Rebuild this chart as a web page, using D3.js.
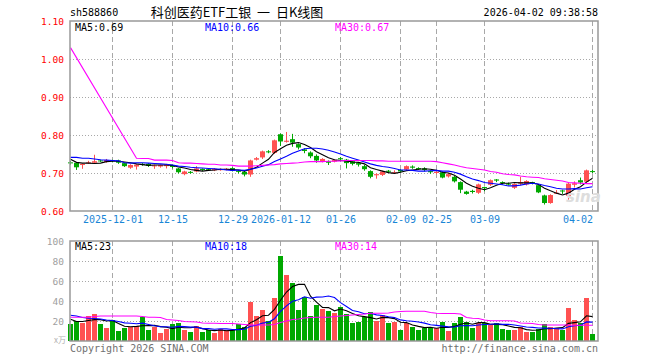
<!DOCTYPE html>
<html>
<head>
<meta charset="utf-8">
<script src="https://cdn.jsdelivr.net/npm/d3@7"></script>
<style>
  body { margin: 0; background: #fff; }
  svg text { font-family: 'DejaVu Sans Mono', monospace; }
</style>
</head>
<body>
<div id="kline"></div>
<script>
// trading days shown on the chart
const dates = [
  '2025-11-20', '2025-11-21', '2025-11-24', '2025-11-25', '2025-11-26', '2025-11-27', '2025-11-28',
  '2025-12-01', '2025-12-02', '2025-12-03', '2025-12-04', '2025-12-05', '2025-12-08', '2025-12-09',
  '2025-12-10', '2025-12-11', '2025-12-12', '2025-12-15', '2025-12-16', '2025-12-17', '2025-12-18',
  '2025-12-19', '2025-12-22', '2025-12-23', '2025-12-24', '2025-12-25', '2025-12-26', '2025-12-29',
  '2025-12-30', '2025-12-31', '2026-01-05', '2026-01-06', '2026-01-07', '2026-01-08', '2026-01-09',
  '2026-01-12', '2026-01-13', '2026-01-14', '2026-01-15', '2026-01-16', '2026-01-19', '2026-01-20',
  '2026-01-21', '2026-01-22', '2026-01-23', '2026-01-26', '2026-01-27', '2026-01-28', '2026-01-29',
  '2026-01-30', '2026-02-02', '2026-02-03', '2026-02-04', '2026-02-05', '2026-02-06', '2026-02-09',
  '2026-02-10', '2026-02-11', '2026-02-12', '2026-02-13', '2026-02-24', '2026-02-25', '2026-02-26',
  '2026-02-27', '2026-03-02', '2026-03-03', '2026-03-04', '2026-03-05', '2026-03-06', '2026-03-09',
  '2026-03-10', '2026-03-11', '2026-03-12', '2026-03-13', '2026-03-16', '2026-03-17', '2026-03-18',
  '2026-03-19', '2026-03-20', '2026-03-23', '2026-03-24', '2026-03-25', '2026-03-26', '2026-03-27',
  '2026-03-30', '2026-03-31', '2026-04-01', '2026-04-02'
];

const openPrices = [
  .728, .727, .721, .726, .727, .733, .729, .734, .733, .726, .714, .717, .724, .724, .718, .717,
  .718, .721, .712, .697, .703, .704, .711, .710, .707, .709, .709, .713, .706, .703, .696, .735,
  .741, .757, .753, .802, .782, .789, .776, .762, .754, .745, .731, .731, .730, .739, .735, .731,
  .726, .718, .705, .694, .695, .706, .700, .708, .709, .717, .713, .712, .705, .700, .702, .691,
  .690, .676, .651, .653, .648, .663, .669, .683, .676, .672, .661, .672, .670, .676, .668, .641,
  .621, .646, .654, .640, .669, .681, .677, .705
];
const highPrices = [
  .732, .729, .725, .732, .748, .735, .737, .735, .735, .727, .723, .723, .726, .726, .722, .722,
  .724, .722, .713, .706, .705, .718, .712, .712, .713, .712, .713, .715, .708, .705, .735, .742,
  .759, .760, .788, .804, .808, .803, .778, .765, .757, .749, .739, .733, .736, .742, .737, .734,
  .727, .722, .707, .699, .706, .708, .707, .710, .720, .720, .715, .715, .707, .705, .704, .700,
  .692, .678, .653, .656, .672, .664, .683, .684, .678, .675, .673, .690, .681, .677, .670, .643,
  .644, .655, .656, .675, .678, .688, .709, .708
];
const lowPrices = [
  .722, .708, .711, .724, .724, .729, .727, .728, .724, .716, .711, .709, .719, .716, .711, .714,
  .712, .712, .699, .694, .698, .702, .705, .707, .705, .706, .707, .704, .699, .691, .690, .733,
  .737, .752, .750, .771, .780, .769, .762, .752, .739, .727, .728, .721, .728, .731, .712, .720,
  .717, .706, .686, .685, .692, .700, .699, .701, .706, .711, .708, .704, .698, .697, .686, .688,
  .675, .647, .643, .646, .645, .652, .666, .676, .669, .667, .658, .668, .667, .670, .647, .617,
  .619, .645, .645, .630, .662, .670, .675, .700
];
const closePrices = [
  .727, .715, .724, .728, .731, .731, .734, .733, .727, .718, .721, .722, .722, .719, .720, .721,
  .723, .716, .702, .704, .701, .712, .708, .709, .711, .710, .711, .706, .703, .696, .733, .739,
  .757, .755, .786, .783, .785, .780, .767, .758, .744, .733, .737, .727, .734, .736, .726, .724,
  .722, .710, .690, .697, .704, .704, .702, .704, .718, .714, .710, .708, .702, .703, .688, .697,
  .678, .656, .645, .650, .670, .660, .681, .680, .674, .670, .671, .676, .679, .673, .649, .621,
  .642, .648, .652, .672, .673, .675, .707, .703
];

// moving averages as drawn on the chart
const ma5 = [
  .736, .728, .726, .726, .725, .726, .730, .731, .731, .729, .727, .724, .722, .720, .721, .721,
  .721, .720, .716, .713, .709, .707, .705, .707, .708, .710, .710, .709, .708, .705, .710, .715,
  .726, .736, .754, .764, .773, .778, .780, .775, .767, .756, .748, .740, .735, .733, .732, .729,
  .728, .724, .714, .709, .705, .701, .699, .702, .706, .708, .710, .711, .710, .707, .702, .700,
  .694, .684, .673, .665, .660, .656, .661, .668, .673, .673, .675, .674, .674, .674, .670, .660,
  .653, .647, .642, .647, .657, .664, .676, .686
];
const ma10 = [
  .741, .741, .739, .739, .737, .735, .734, .733, .732, .727, .726, .727, .727, .726, .725, .724,
  .723, .721, .718, .717, .715, .714, .713, .712, .711, .710, .708, .707, .708, .707, .710, .713,
  .718, .722, .730, .737, .744, .752, .758, .764, .765, .765, .763, .760, .755, .750, .744, .739,
  .734, .729, .724, .720, .717, .715, .712, .708, .708, .707, .705, .705, .706, .707, .705, .705,
  .702, .697, .690, .684, .680, .675, .673, .671, .669, .666, .666, .668, .671, .673, .671, .667,
  .664, .660, .658, .658, .659, .658, .661, .664
];
const ma30 = [
  1.03, null, null, null, null, null, null, null, null, null, null, .739, .738, .738, .734, .734,
  .734, .733, .727, .726, .726, .725, .724, .723, .723, .721, .721, .720, .718, .718, .718, .719,
  .720, .721, .722, .724, .725, .726, .727, .729, .730, .730, .730, .731, .731, .732, .733, .733,
  .733, .733, .733, .732, .732, .731, .731, .731, .731, .731, .731, .731, .731, .730, .727, .724,
  .721, .717, .714, .712, .710, .708, .704, .702, .698, .696, .695, .692, .690, .689, .688, .685,
  .683, .681, .679, .675, .674, .673, .672, .672
];

// volume, in 10k lots
const volumes = [
  17, 20, 18, 25, 27, 17, 13, 21, 10, 13, 14, 15, 24, 11, 14, 8,
  12, 17, 18, 11, 9, 15, 9, 11, 8, 12, 11, 11, 17, 14, 39, 25,
  31, 20, 43, 85, 66, 58, 31, 44, 25, 36, 32, 30, 28, 34, 27, 18,
  19, 24, 29, 20, 26, 18, 19, 11, 18, 14, 11, 13, 13, 13, 19, 10,
  18, 24, 19, 13, 18, 18, 16, 18, 12, 11, 11, 14, 9, 9, 12, 17,
  14, 13, 11, 33, 21, 18, 43, 7
];
const volMa5 = [
  21.7, 19.5, 19.5, 20.5, 21.4, 21.4, 20, 20.6, 17.6, 14.8, 14.2, 14.6, 15.2, 15.4, 15.6, 14.4,
  13.8, 12.4, 13.8, 13.2, 13.4, 14, 12.4, 11, 10.4, 11, 10.2, 10.6, 11.8, 13, 18.4, 21.2,
  25.2, 25.8, 31.6, 40.8, 49, 54.4, 56.6, 56.8, 44.8, 38.8, 33.6, 33.4, 30.2, 32, 30.2, 27.4,
  25.2, 24.4, 23.4, 22, 23.6, 23.4, 22.4, 18.8, 18.4, 16, 14.6, 13.4, 13.8, 12.8, 13.8, 13.6,
  14.6, 16.8, 18, 16.8, 18.4, 18.4, 16.8, 16.6, 16.4, 15, 13.6, 13.2, 11.4, 10.8, 11, 12.2,
  12.2, 13, 13.4, 17.6, 18.4, 19.2, 25.2, 24.4
];
const volMa10 = [
  25.7, 25, 23.5, 22.7, 22.5, 22, 21, 20.5, 19.5, 18.1, 17.8, 17.3, 17.9, 16.5, 15.2, 14.3,
  14.2, 13.8, 14.6, 14.4, 13.9, 13.9, 12.4, 12.4, 11.8, 12.2, 12.1, 11.5, 11.4, 11.7, 14.7, 15.7,
  17.9, 18.8, 22.3, 29.6, 35.1, 39.8, 41.2, 44.2, 42.8, 43.9, 44, 45, 43.5, 38.4, 34.5, 30.5,
  29.3, 27.3, 27.7, 26.1, 25.5, 24.3, 23.4, 21.1, 20.2, 19.8, 19, 17.9, 16.3, 15.6, 14.9, 14.1,
  14, 15.3, 15.4, 15.3, 16, 16.5, 16.8, 17.3, 16.6, 16.7, 16, 15, 14, 13.6, 13, 12.9,
  12.7, 12.2, 12.1, 14.3, 15.3, 15.7, 19.1, 18.9
];
const volMa30 = [
  23.7, 23.7, 23.7, 23.7, 24.5, 25, 25, 25, 25, 25, 25, 25, 24.5, 23.7, 23.7, 23.5,
  21.5, 21, 20.5, 19.5, 19.3, 19, 18, 17.7, 17.7, 17.5, 17.5, 17.5, 17, 16.5, 16, 16,
  16, 16, 16.5, 18.5, 20, 21.5, 22, 23, 23.5, 23.7, 23.7, 23.7, 24.5, 25, 25.5, 26,
  26.5, 27, 27.7, 27.7, 27.7, 28, 29, 29.5, 29.7, 29.7, 29.7, 29.7, 28.5, 27.7, 27.5, 27.5,
  27.5, 27, 23.5, 22.7, 22.5, 21, 20.3, 20.3, 20.3, 20.3, 20, 18, 17.7, 17.5, 16.5, 16,
  16, 16, 16, 16, 15.8, 15.8, 15.7, 15.7
];

const tickDates = ['2025-12-01', '2025-12-15', '2025-12-29', '2026-01-12', '2026-01-26',
  '2026-02-09', '2026-02-25', '2026-03-09', '2026-04-02'];
const tickLabels = ['2025-12-01', '12-15', '12-29', '2026-01-12', '01-26',
  '02-09', '02-25', '03-09', '04-02'];
const priceTicks = [0.6, 0.7, 0.8, 0.9, 1.0, 1.1];
const volumeTicks = [20, 40, 60, 80, 100];

const maLabels = ['MA5:0.69', 'MA10:0.66', 'MA30:0.67'];
const volMaLabels = ['MA5:23', 'MA10:18', 'MA30:14'];

const width = 660;
const height = 360;
const left = 70;
const right = 598;
const priceTop = 21;
const priceBottom = 211;
const volTop = 241;
const volBottom = 341;

const UP = '#ff5151';
const DOWN = '#00a800';
const GRID = '#a8a8a8';
const maColors = ['#000000', '#0000ff', '#ff00ff'];

const svg = d3.select('#kline')
  .append('svg')
  .attr('width', width)
  .attr('height', height);

const x = d3.scaleLinear()
  .domain([0, dates.length - 1])
  .range([70.5, 70.5 + 6 * (dates.length - 1)]);
const y = d3.scaleLinear().domain([0.6, 1.1]).range([priceBottom, priceTop]);
const yVol = d3.scaleLinear().domain([0, 100]).range([volBottom, volTop]);

const tickIndex = tickDates.map(d => dates.indexOf(d));

// grid: vertical dashed lines on tick dates, dotted horizontals
function drawGrid(top, bottom, scale, values) {
  const g = svg.append('g').attr('class', 'grid');
  g.selectAll('line.v')
    .data(tickIndex)
    .enter()
    .append('line')
    .attr('x1', d => x(d))
    .attr('x2', d => x(d))
    .attr('y1', top)
    .attr('y2', bottom)
    .attr('stroke', GRID)
    .attr('stroke-dasharray', '5,3');
  g.selectAll('line.h')
    .data(values)
    .enter()
    .append('line')
    .attr('x1', left)
    .attr('x2', right)
    .attr('y1', d => Math.round(scale(d)) + 0.5)
    .attr('y2', d => Math.round(scale(d)) + 0.5)
    .attr('stroke', GRID)
    .attr('stroke-dasharray', '1,2');
}
drawGrid(priceTop, priceBottom, y, [0.7, 0.8, 0.9, 1.0]);
drawGrid(volTop, volBottom, yVol, [20, 40, 60, 80]);

const isUp = i => closePrices[i] >= openPrices[i];

// candles
const candles = svg.append('g').attr('class', 'candles');
candles.selectAll('line')
  .data(dates.map((d, i) => i))
  .enter()
  .append('line')
  .attr('x1', i => x(i))
  .attr('x2', i => x(i))
  .attr('y1', i => y(highPrices[i]))
  .attr('y2', i => y(lowPrices[i]))
  .attr('stroke', i => (isUp(i) ? UP : DOWN));
candles.selectAll('rect')
  .data(dates.map((d, i) => i))
  .enter()
  .append('rect')
  .attr('x', i => x(i) - 2.5)
  .attr('width', 5)
  .attr('y', i => y(Math.max(openPrices[i], closePrices[i])))
  .attr('height', i => Math.max(1, Math.abs(y(openPrices[i]) - y(closePrices[i]))))
  .attr('fill', i => (isUp(i) ? UP : DOWN));

// volume bars
svg.append('g')
  .selectAll('rect')
  .data(volumes)
  .enter()
  .append('rect')
  .attr('x', (v, i) => x(i) - 2.5)
  .attr('width', 5)
  .attr('y', v => yVol(v))
  .attr('height', v => volBottom - yVol(v))
  .attr('fill', (v, i) => (isUp(i) ? UP : DOWN));

// MA lines
function drawLine(values, scale, color) {
  const pts = values.map((v, i) => [i, v]).filter(d => d[1] != null);
  svg.append('path')
    .datum(pts)
    .attr('fill', 'none')
    .attr('stroke', color)
    .attr('stroke-width', 1.1)
    .attr('d', d3.line().x(d => x(d[0])).y(d => scale(d[1])));
}
[ma5, ma10, ma30].forEach((s, k) => drawLine(s, y, maColors[k]));
[volMa5, volMa10, volMa30].forEach((s, k) => drawLine(s, yVol, maColors[k]));

// frames
[[priceTop, priceBottom], [volTop, volBottom]].forEach(([t, b]) => {
  svg.append('rect')
    .attr('x', left)
    .attr('y', t)
    .attr('width', right - left)
    .attr('height', b - t)
    .attr('fill', 'none')
    .attr('stroke', '#999')
    .attr('stroke-width', 1.5);
});

// axes
const priceAxis = svg.append('g')
  .attr('transform', `translate(${left - 3},0)`)
  .call(d3.axisLeft(y).tickValues(priceTicks).tickSize(0).tickFormat(d3.format('.2f')));
priceAxis.select('.domain').remove();
priceAxis.selectAll('text')
  .attr('fill', '#ff0000')
  .style('font-size', '9.5px')
  .style('font-family', 'DejaVu Sans Mono');

const volAxis = svg.append('g')
  .attr('transform', `translate(${left - 3},0)`)
  .call(d3.axisLeft(yVol).tickValues(volumeTicks).tickSize(0));
volAxis.select('.domain').remove();
volAxis.selectAll('text')
  .attr('fill', '#a0a0a0')
  .style('font-size', '9.5px')
  .style('font-family', 'DejaVu Sans Mono');

const xAxis = svg.append('g')
  .attr('transform', `translate(0,${priceBottom + 2})`)
  .call(d3.axisBottom(x).tickValues(tickIndex).tickSize(0)
    .tickFormat((d, i) => tickLabels[i]));
xAxis.select('.domain').remove();
xAxis.selectAll('text')
  .attr('fill', '#1a86d6')
  .style('font-size', '10px')
  .style('font-family', 'DejaVu Sans Mono')
  .attr('text-anchor', (d, i) => (i === tickLabels.length - 1 ? 'end' : 'middle'));

// header texts
svg.append('text').attr('x', left).attr('y', 16)
  .style('font-size', '10px').text('sh588860');
svg.append('text').attr('x', 237).attr('y', 17)
  .attr('text-anchor', 'middle')
  .style('white-space', 'pre')
  .style('font-family', "'Noto Sans CJK SC', sans-serif")
  .style('font-size', '13px')
  .text('科创医药ETF工银  一  日K线图');
svg.append('text').attr('x', right).attr('y', 16)
  .attr('text-anchor', 'end')
  .style('font-size', '10px').text('2026-04-02 09:38:58');

const labelX = [75, 205, 335];
maLabels.forEach((t, k) => {
  svg.append('text').attr('x', labelX[k]).attr('y', 31)
    .attr('fill', maColors[k]).style('font-size', '10px').text(t);
});
volMaLabels.forEach((t, k) => {
  svg.append('text').attr('x', labelX[k]).attr('y', 250)
    .attr('fill', maColors[k]).style('font-size', '10px').text(t);
});

svg.append('text').attr('x', 66).attr('y', 343)
  .attr('text-anchor', 'end')
  .attr('fill', '#b0b0b0')
  .style('font-family', "'Noto Sans CJK SC', sans-serif")
  .style('font-size', '8px').text('x万');

svg.append('text').attr('x', left).attr('y', 352)
  .attr('fill', '#707070').style('font-size', '10px').text('Copyright 2026 SINA.COM');
svg.append('text').attr('x', right).attr('y', 352)
  .attr('text-anchor', 'end')
  .attr('fill', '#707070').style('font-size', '10px').text('http://finance.sina.com.cn');

// watermark
svg.append('text').attr('x', 566).attr('y', 202)
  .attr('fill', '#dddddd')
  .style('font-family', 'Verdana, DejaVu Sans, sans-serif')
  .style('font-style', 'italic')
  .style('font-weight', 'bold')
  .style('font-size', '15px')
  .text('sina');
</script>
</body>
</html>
